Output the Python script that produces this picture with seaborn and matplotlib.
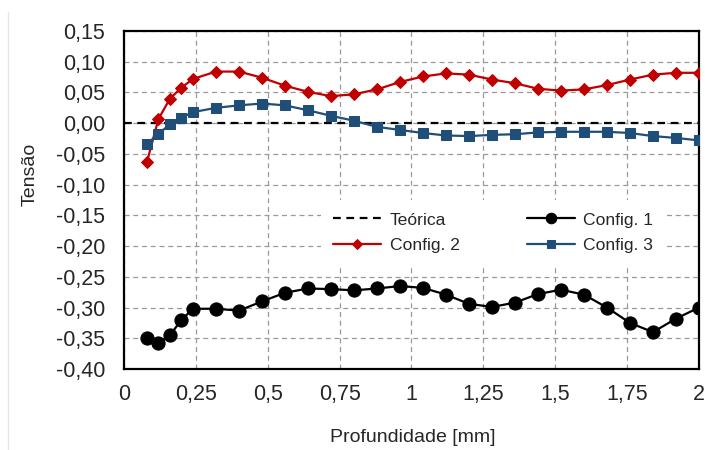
import matplotlib
matplotlib.use('Agg')
import matplotlib.pyplot as plt
import matplotlib.ticker as mticker
import seaborn as sns
import numpy as np
import pandas as pd

# Profundidade [mm]
prof = [0.08, 0.12, 0.16, 0.20, 0.24, 0.32, 0.40, 0.48, 0.56, 0.64, 0.72, 0.80, 0.88, 0.96,
        1.04, 1.12, 1.20, 1.28, 1.36, 1.44, 1.52, 1.60, 1.68, 1.76, 1.84, 1.92, 2.00]

config1 = [-0.350, -0.358, -0.345, -0.320, -0.302, -0.302, -0.305, -0.290, -0.276, -0.269,
           -0.270, -0.272, -0.269, -0.265, -0.268, -0.279, -0.294, -0.299, -0.292, -0.278,
           -0.271, -0.279, -0.300, -0.325, -0.340, -0.318, -0.300]
config2 = [-0.063, 0.007, 0.040, 0.058, 0.072, 0.084, 0.084, 0.074, 0.061, 0.051,
           0.044, 0.047, 0.055, 0.067, 0.076, 0.081, 0.079, 0.071, 0.065, 0.056,
           0.053, 0.055, 0.062, 0.071, 0.079, 0.082, 0.082]
config3 = [-0.034, -0.017, -0.002, 0.009, 0.018, 0.025, 0.029, 0.032, 0.029, 0.021,
           0.012, 0.004, -0.006, -0.011, -0.016, -0.020, -0.021, -0.019, -0.018, -0.015,
           -0.014, -0.014, -0.014, -0.016, -0.021, -0.024, -0.028]

teorica_x = [0.0, 2.0]
teorica_y = [0.0, 0.0]

x_ticks = [0, 0.25, 0.5, 0.75, 1, 1.25, 1.5, 1.75, 2]
y_ticks = [-0.40, -0.35, -0.30, -0.25, -0.20, -0.15, -0.10, -0.05, 0.00, 0.05, 0.10, 0.15]

sns.set_style('white')
plt.rcParams['font.family'] = ['Liberation Sans', 'DejaVu Sans']

df = pd.DataFrame({'prof': prof, 'c1': config1, 'c2': config2, 'c3': config3})

fig = plt.figure(figsize=(7.15, 4.5), dpi=100)
ax = fig.add_axes([0.1734, 0.18, 0.8042, 0.7511])

ax.plot(teorica_x, teorica_y, color='black', linestyle=(0, (3.5, 2.5)), linewidth=1.6,
        label='Teórica', zorder=3)
sns.lineplot(data=df, x='prof', y='c1', ax=ax, color='black', marker='o', markersize=9.5,
             markeredgecolor='black', linewidth=1.6, label='Config. 1', zorder=4)
sns.lineplot(data=df, x='prof', y='c2', ax=ax, color='#C00000', marker='D', markersize=6.5,
             markeredgecolor='#C00000', linewidth=1.6, label='Config. 2', zorder=4)
sns.lineplot(data=df, x='prof', y='c3', ax=ax, color='#1F4E79', marker='s', markersize=7.5,
             markeredgecolor='#1F4E79', linewidth=1.6, label='Config. 3', zorder=4)

ax.set_xlim(0, 2)
ax.set_ylim(-0.40, 0.15)
ax.set_xticks(x_ticks)
ax.set_yticks(y_ticks)

ax.xaxis.set_major_formatter(mticker.FuncFormatter(lambda v, p: ('%g' % v).replace('.', ',')))
ax.yaxis.set_major_formatter(mticker.FuncFormatter(lambda v, p: ('%.2f' % v).replace('.', ',')))
ax.tick_params(axis='both', labelsize=15.5, length=0, colors='#262626')
ax.tick_params(axis='y', pad=13.5)
ax.tick_params(axis='x', pad=11)

ax.grid(True, color='#9a9a9a', linestyle=(0, (4, 3)), linewidth=0.9)
for s in ax.spines.values():
    s.set_color('black')
    s.set_linewidth(1.6)

ax.set_xlabel('Profundidade [mm]', fontsize=14, color='#262626', va='center')
ax.set_ylabel('Tensão', fontsize=14, color='#262626', va='center')
ax.xaxis.set_label_coords(0.503, -0.204)
ax.yaxis.set_label_coords(-0.163, 0.577)

handles, labels = ax.get_legend_handles_labels()
order = ['Teórica', 'Config. 2', 'Config. 1', 'Config. 3']
hmap = dict(zip(labels, handles))
leg = ax.legend([hmap[k] for k in order], order, loc='upper left', bbox_to_anchor=(0.3426, 0.500),
                ncol=2, fontsize=12.6, handlelength=2.75, columnspacing=3.8, handletextpad=0.5,
                labelspacing=0.6, frameon=True, fancybox=False, borderpad=0.7, borderaxespad=0)
leg.get_frame().set_facecolor('white')
leg.get_frame().set_edgecolor('none')
leg.get_frame().set_alpha(1)
leg.set_zorder(5)
for h in leg.legend_handles:
    if h.get_marker() not in (None, 'None', ''):
        h.set_markersize(h.get_markersize() * 0.8)

fig.add_artist(plt.Line2D([8 / 715, 8 / 715], [0, 1 - 12 / 450], color='#e6e6e6', linewidth=1))

fig.savefig('out.png', dpi=100)
